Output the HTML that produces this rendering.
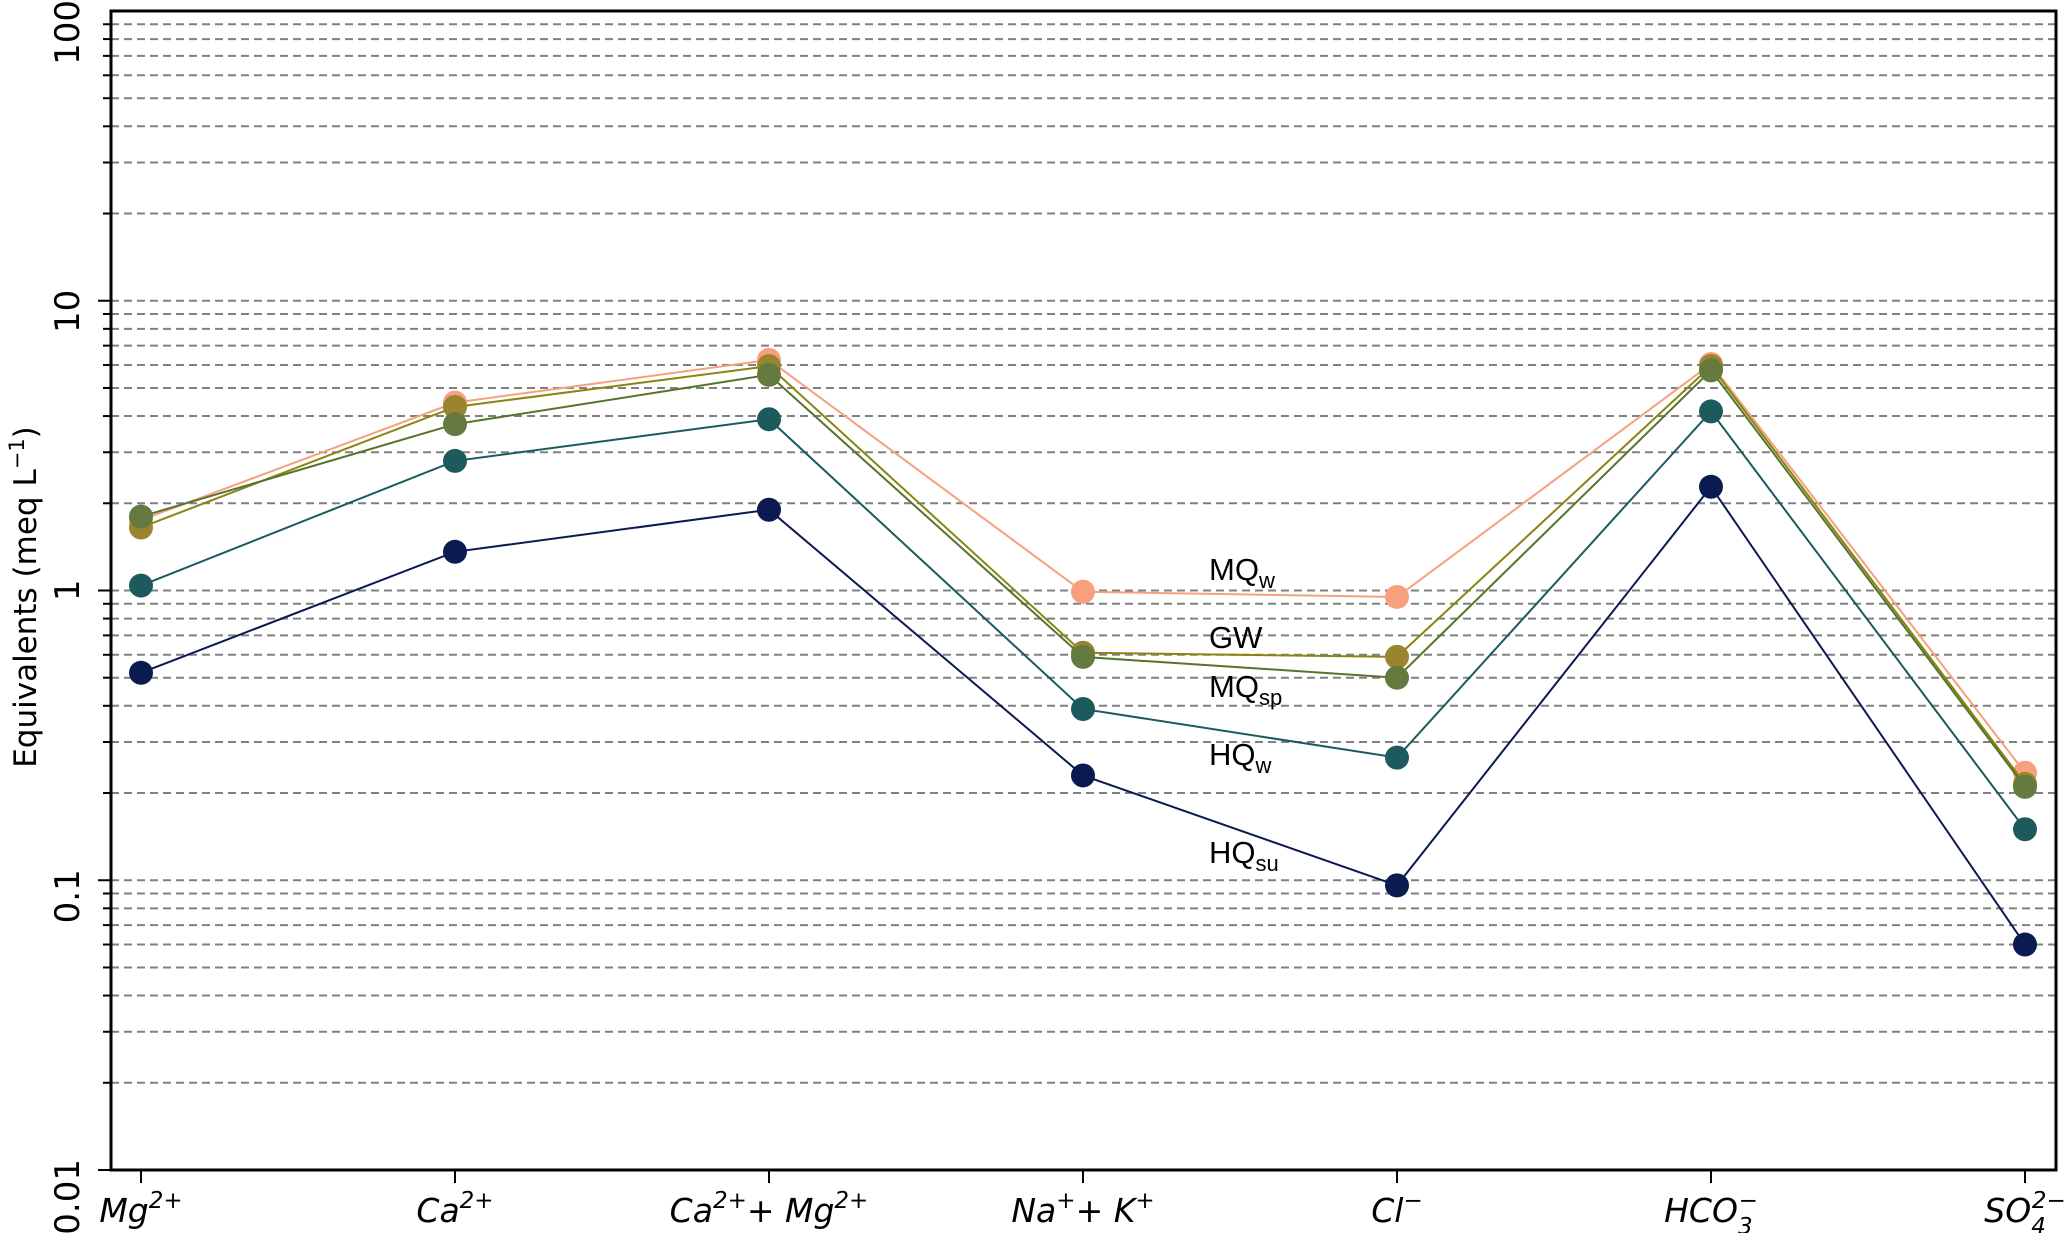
<!DOCTYPE html>
<html><head><meta charset="utf-8"><style>
html,body{margin:0;padding:0;background:#fff;}
svg{display:block;font-family:"Liberation Sans","DejaVu Sans",sans-serif;}
</style></head><body>
<svg id="chart" width="2067" height="1233" viewBox="0 0 2067 1233">
<g id="grid"></g>
<g id="series"></g>
<g id="axes"></g>
</svg>
<script>
const categories = ["Mg", "Ca", "CaMg", "NaK", "Cl", "HCO3", "SO4"];
const seriesNames = ["MQw", "GW", "MQsp", "HQw", "HQsu"];
const valMQw  = [1.75, 4.45, 6.25, 0.99, 0.95, 6.05, 0.235];
const valGW   = [1.65, 4.30, 5.95, 0.61, 0.59, 5.95, 0.215];
const valMQsp = [1.80, 3.75, 5.55, 0.59, 0.50, 5.75, 0.210];
const valHQw  = [1.04, 2.80, 3.90, 0.39, 0.265, 4.15, 0.150];
const valHQsu = [0.52, 1.36, 1.90, 0.230, 0.096, 2.28, 0.060];
const yTickVals = [0.01, 0.1, 1, 10, 100];
const yTickLabels = ["0.01", "0.1", "1", "10", "100"];

const NS = "http://www.w3.org/2000/svg";
const L = 111, R = 2056, T = 11, B = 1170;
const x0 = 141, xStep = 314;
const yMin = -2, yMax = 2;
function xScale(i){ return x0 + i * xStep; }
function yScale(v){ return B - (Math.log10(v) - yMin) / (yMax - yMin) * (B - T); }
function mk(tag, attrs, parent){ const e = document.createElementNS(NS, tag); for (const k in attrs) e.setAttribute(k, attrs[k]); parent.appendChild(e); return e; }

const grid = document.getElementById("grid");
const axes = document.getElementById("axes");
const sg = document.getElementById("series");

for (let d = -2; d < 2; d++) {
  for (let m = 1; m <= 9; m++) {
    const v = m * Math.pow(10, d);
    if (v <= 0.01) continue;
    const y = yScale(v);
    const gl = mk("line", {x1: L, x2: R, y1: y, y2: y, stroke: "#808080", "stroke-width": 2, "stroke-dasharray": "8,5"}, grid);
    
    
    const tk = mk("line", {x1: L - (m === 1 ? 13 : 8), x2: L, y1: y, y2: y, stroke: "#000", "stroke-width": 2}, axes);
    
    
  }
}
const frame = mk("rect", {x: L, y: T, width: R - L, height: B - T, fill: "none", stroke: "#000", "stroke-width": 3}, axes);


{
  const tk = mk("line", {x1: L - 13, x2: L, y1: B, y2: B, stroke: "#000", "stroke-width": 2}, axes);
  
  
}
yTickVals.forEach((v, i) => {
  const y = yScale(v);
  const t = mk("text", {x: 0, y: 0, "font-size": 34, "font-family": "DejaVu Sans, sans-serif", "text-anchor": "end", transform: `translate(79,${y - 11}) rotate(-90)`}, axes);
  t.textContent = yTickLabels[i];
  
  
});
{
  const t = mk("text", {x: 0, y: 0, "font-size": 31, "font-family": "DejaVu Sans, sans-serif", "text-anchor": "middle", transform: `translate(36,597) rotate(-90)`}, axes);
  t.innerHTML = 'Equivalents (meq L<tspan dy="-12" font-size="21">−1</tspan><tspan dy="12">)</tspan>';
  
  
}
const xLabelHtml = [
  'Mg<tspan dy="-14" font-size="23">2+</tspan>',
  'Ca<tspan dy="-14" font-size="23">2+</tspan>',
  'Ca<tspan dy="-14" font-size="23">2+</tspan><tspan dy="14">+ Mg</tspan><tspan dy="-14" font-size="23">2+</tspan>',
  'Na<tspan dy="-14" font-size="23">+</tspan><tspan dy="14">+ K</tspan><tspan dy="-14" font-size="23">+</tspan>',
  'Cl<tspan dy="-14" font-size="23">−</tspan>',
  'HCO<tspan dy="12" font-size="23">3</tspan><tspan dx="-14" dy="-26" font-size="23">−</tspan>',
  'SO<tspan dy="12" font-size="23">4</tspan><tspan dx="-14" dy="-26" font-size="23">2−</tspan>'
];
categories.forEach((c, i) => {
  const x = xScale(i);
  const tk = mk("line", {x1: x, x2: x, y1: B, y2: B + 13, stroke: "#000", "stroke-width": 2}, axes);
  
  
  const t = mk("text", {x: x, y: 1222, "font-size": 33, "font-family": "DejaVu Sans, sans-serif", "font-style": "italic", "text-anchor": "middle"}, axes);
  t.innerHTML = xLabelHtml[i];
  
  
});

const seriesData = [valMQw, valGW, valMQsp, valHQw, valHQsu];
const lineColors = ["#f6a07e", "#8a8410", "#55742c", "#1c5a5e", "#0b1a50"];
const dotColors  = ["#f6a07e", "#9a8430", "#647a3e", "#1c5a5e", "#0b1a50"];
seriesData.forEach((vals, s) => {
  const g = mk("g", {}, sg);
  
  
  const pts = vals.map((v, i) => xScale(i) + "," + yScale(v)).join(" ");
  const pl = mk("polyline", {points: pts, fill: "none", stroke: lineColors[s], "stroke-width": 2}, g);
  
  
  vals.forEach((v, i) => {
    const c = mk("circle", {cx: xScale(i), cy: yScale(v), r: 12, fill: dotColors[s]}, g);
    
    
  });
});

const labelY = [580, 648, 697, 765, 863];
const labelHtml = [
  'MQ<tspan dy="8" font-size="22">w</tspan>',
  'GW',
  'MQ<tspan dy="8" font-size="22">sp</tspan>',
  'HQ<tspan dy="8" font-size="22">w</tspan>',
  'HQ<tspan dy="8" font-size="22">su</tspan>'
];
labelHtml.forEach((h, i) => {
  const t = mk("text", {x: 1209, y: labelY[i], "font-size": 31}, axes);
  t.innerHTML = h;
  
  
});
</script>
</body></html>
